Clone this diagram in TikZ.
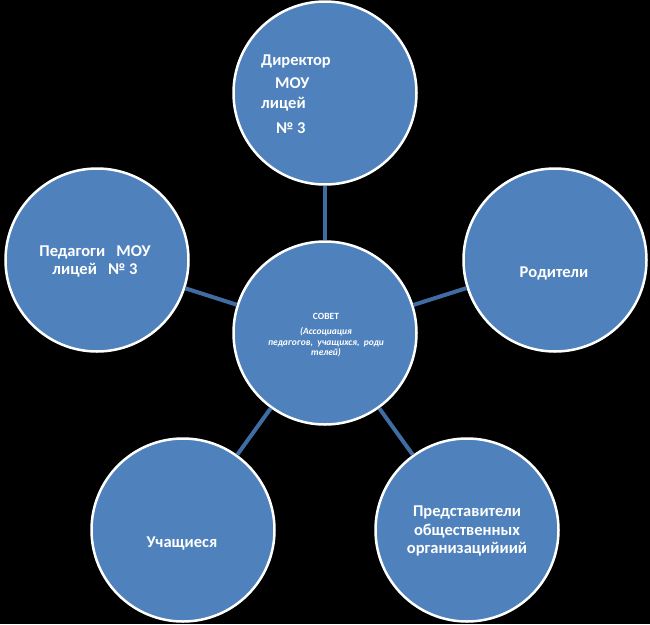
\documentclass[tikz,border=0pt]{standalone}
\usepackage{fontspec}
\setmainfont{Carlito}
\usepackage{tikz}
\usetikzlibrary{calc}

\definecolor{circblue}{RGB}{79,129,189}
\definecolor{linkblue}{RGB}{63,108,163}

\begin{document}
\begin{tikzpicture}[x=1pt,y=-1pt,
    member/.style={draw=white,line width=2.5pt,fill=circblue,circle,minimum size=183pt,inner sep=0pt},
    link/.style={line width=4pt,linkblue},
    label text/.style={text=white,font=\fontsize{16.5}{19}\selectfont\bfseries,inner sep=0pt},
    center text/.style={text=white,font=\fontsize{9.5}{10.5}\selectfont\bfseries,inner sep=0pt,align=center}]
    \fill [black] (0,0) rectangle (650,624);
    \useasboundingbox (0,0) rectangle (650,624);

    \node [member] (Sovet) at (325,333) {};
    \node [member] (Director) at (325,93) {};
    \node [member] (Teachers) at (97,260) {};
    \node [member] (Parents) at (555,260) {};
    \node [member] (Pupils) at (183,530) {};
    \node [member] (Public) at (467,530) {};

    \draw [link] (Sovet) -- (Director);
    \draw [link] (Sovet) -- (Teachers);
    \draw [link] (Sovet) -- (Parents);
    \draw [link] (Sovet) -- (Pupils);
    \draw [link] (Sovet) -- (Public);

    \node [center text] (SovetText) at (326,335)
        {СОВЕТ\\[5pt]\textit{(Ассоциация}\\\textit{педагогов,\ \ учащихся,\ \ роди}\\\textit{телей)}};
    \node [label text,align=left] (DirectorText) at (296,94)
        {Директор\\[4pt]\hspace*{14pt}МОУ\\[1pt]лицей\\[6pt]\hspace*{15pt}№ 3};
    \node [label text,align=center,font=\fontsize{16.5}{18}\selectfont\bfseries] (TeachersText) at (95,261)
        {Педагоги\ \ \ МОУ\\лицей\ \ \ № 3};
    \node [label text] (ParentsText) at (554,273) {Родители};
    \node [label text] (PupilsText) at (182,543) {Учащиеся};
    \node [label text,align=center,font=\fontsize{16.5}{18.5}\selectfont\bfseries] (PublicText) at (467,531)
        {Представители\\общественных\\организацийиий};
\end{tikzpicture}
\end{document}
